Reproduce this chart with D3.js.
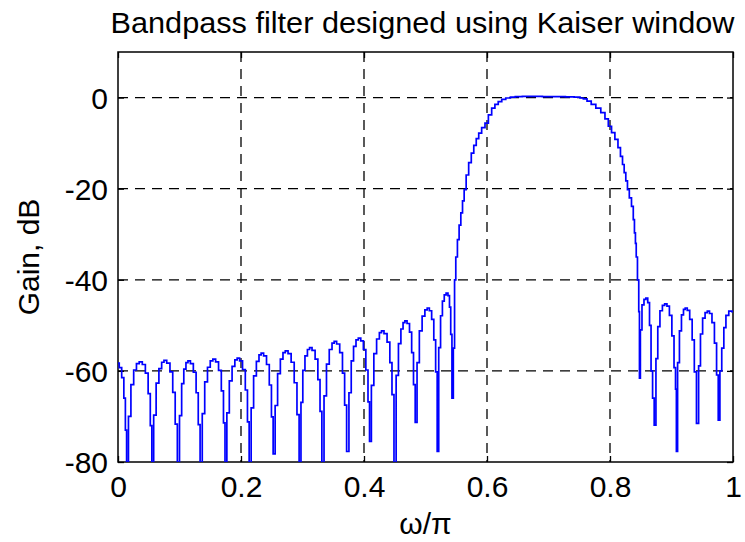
<!DOCTYPE html>
<html><head><meta charset="utf-8">
<script src="https://cdn.jsdelivr.net/npm/d3@7"></script>
<style>
html,body{margin:0;padding:0;background:#fff;}
svg text{font-family:"Liberation Sans",Arial,Helvetica,sans-serif;fill:#000;}
</style></head>
<body><svg id="chart" width="745" height="542"></svg>
<script>
const title = "Bandpass filter designed using Kaiser window";
const xLabel = "ω/π";
const yLabel = "Gain, dB";
const xTicks = [0, 0.2, 0.4, 0.6, 0.8, 1];
const xTickLabels = ["0", "0.2", "0.4", "0.6", "0.8", "1"];
const yTicks = [-80, -60, -40, -20, 0];
const yTickLabels = ["-80", "-60", "-40", "-20", "0"];

// normalized frequency (omega/pi)
const omega = [
0,0.004,0.008,0.011,0.013,0.015,
0.019,0.023,0.028,0.032,0.037,0.042,0.047,0.051,0.054,0.056,
0.06,0.064,0.069,0.073,0.0765,0.082,0.087,0.091,0.095,0.098,
0.102,0.105,0.109,0.112,0.1155,0.12,0.125,0.129,0.132,0.135,
0.139,0.143,0.148,0.152,0.1565,0.161,0.166,0.17,0.173,0.175,
0.179,0.183,0.188,0.192,0.1955,0.2,0.205,0.209,0.212,0.2145,
0.2185,0.2225,0.2275,0.231,0.2345,0.239,0.244,0.248,0.251,0.2535,
0.2575,0.2615,0.2665,0.27,0.274,0.279,0.284,0.289,0.293,0.296,
0.299,0.302,0.306,0.31,0.313,0.318,0.323,0.327,0.33,0.333,
0.337,0.341,0.346,0.35,0.353,0.358,0.363,0.367,0.37,0.3735,
0.3775,0.381,0.385,0.389,0.3925,0.397,0.401,0.405,0.408,0.41,
0.414,0.418,0.423,0.427,0.43,0.435,0.44,0.444,0.447,0.4505,
0.454,0.458,0.462,0.465,0.468,0.472,0.476,0.479,0.482,0.4845,
0.488,0.492,0.497,0.501,0.5045,0.508,0.512,0.515,0.518,0.52,
0.523,0.526,0.529,0.532,0.535,0.538,0.54,0.542,0.544,
0.5465,0.548,0.5505,0.5533,0.556,0.5589,0.5615,0.5642,0.568,0.5724,0.5765,0.5805,0.5845,0.5886,0.594,0.5995,
0.605,0.6102,0.6155,0.621,0.627,0.634,0.642,0.65,0.665,0.68,0.70,0.72,0.735,
0.7485,0.754,0.7593,0.766,0.7729,0.781,0.7891,0.7945,0.8,0.805,0.8109,0.815,0.819,0.8217,0.8244,0.827,0.8298,0.833,0.8369,
0.8388,0.8407,0.842,0.8433,0.846,0.8475,
0.8483,0.8505,0.8535,0.857,0.8597,0.863,0.8655,0.868,0.8705,0.8732,
0.8762,0.8792,0.8832,0.8872,0.8906,0.8946,0.8986,0.9026,0.9056,0.9075,0.9084,
0.9114,0.9144,0.918,0.921,0.9236,0.9276,0.9316,0.9356,0.9386,0.9426,
0.9456,0.9486,0.9526,0.9566,0.9598,0.9638,0.9678,0.9718,0.9748,0.9772,
0.9802,0.9832,0.987,0.99,0.9963,1
];
// gain in dB
const gainDb = [
-58.3,-59.3,-61.5,-66,-73,-90,
-70,-63,-59.8,-58.4,-58,-58.6,-60.5,-65,-72,-90,
-69.7,-62.7,-59.5,-58.1,-57.7,-58.3,-60.2,-64.7,-71.7,-90,
-69.8,-62.8,-59.6,-58.2,-57.8,-58.4,-60.3,-64.8,-71.8,-90,
-69.4,-62.4,-59.2,-57.8,-57.4,-58,-59.9,-64.4,-71.4,-90,
-69.2,-62.2,-59,-57.6,-57.2,-57.8,-59.7,-64.2,-71.2,-90,
-68.1,-61.1,-57.9,-56.5,-56.1,-56.7,-58.6,-63.1,-70.1,-78.2,
-67.6,-60.6,-57.4,-56,-55.6,-56.2,-58.1,-62.6,-69.6,-90,
-66.9,-59.9,-56.7,-55.3,-54.9,-55.5,-57.4,-61.9,-68.9,-90,
-65.5,-58.5,-55.3,-53.9,-53.5,-54.1,-56,-60.5,-67.5,-77.7,
-64.8,-57.8,-54.6,-53.2,-52.8,-53.4,-55.3,-59.8,-66.8,-75.5,
-63.2,-56.2,-53,-51.6,-51.2,-51.8,-53.7,-58.2,-65.2,-85,
-61,-54,-50.8,-49.4,-49,-49.6,-51.5,-56,-63,-71.3,
-58.2,-51.2,-48,-46.6,-46.2,-46.8,-48.7,-53.2,-60.2,-77.7,
-54.9,-47.9,-44.7,-43.3,-42.9,-43.5,-46,-52,-66,
-55,-40,-35,-31.2,-28,-25.3,-22.7,-20.2,-17,-14.3,-12.2,-10.5,-9,-7.8,-6.6,-5.6,
-3.8,-2.3,-1.5,-0.9,-0.4,-0.1,0.1,0.2,0.25,0.25,0.2,0.2,0.15,
0.1,-0.1,-0.3,-0.8,-1.5,-2.3,-3.3,-4.7,-6.3,-7.7,-9.2,-11,-12.9,-14.7,-16.5,-18.3,-20.2,-22,-23.9,
-26.8,-29.7,-32,-35,-40,-47,
-61.6,-51,-45.5,-44.3,-44,-45,-50,-60,-66,-71.9,
-57.3,-50.3,-46.8,-45.6,-45.3,-45.8,-47.8,-52.3,-59.3,-64,-77.7,
-58.2,-51.2,-47.7,-46.5,-46.2,-46.7,-48.7,-53.2,-60.2,-71.5,
-58.9,-51.9,-48.4,-47.2,-46.9,-47.4,-49.4,-53.9,-60.9,-70.8,
-60,-55,-50.5,-47.8,-46.9,-47
];

const svg = d3.select("#chart");
const L = 118, R = 733, T = 52, B = 462;
const x = d3.scaleLinear().domain([0, 1]).range([L, R]);
const y = d3.scaleLinear().domain([-80, 10]).range([B, T]);

svg.append("defs").append("clipPath").attr("id", "clip")
  .append("rect").attr("x", L).attr("y", T).attr("width", R - L).attr("height", B - T);

// grid
const grid = svg.append("g").attr("stroke", "#000").attr("stroke-width", 1.3).attr("stroke-dasharray", "10,7");
grid.selectAll(".vg").data(xTicks.filter(d => d > 0 && d < 1)).join("line")
  .attr("x1", d => x(d)).attr("x2", d => x(d)).attr("y1", T).attr("y2", B);
grid.selectAll(".hg").data(yTicks.filter(d => d > -80)).join("line")
  .attr("x1", L).attr("x2", R).attr("y1", d => y(d)).attr("y2", d => y(d));

// axes (MATLAB style, inward ticks on all sides)
const tickLen = 6;
const axB = svg.append("g").attr("transform", `translate(0,${B})`)
  .call(d3.axisBottom(x).tickValues(xTicks).tickSize(-tickLen).tickFormat((d, i) => xTickLabels[i]).tickPadding(14));
const axT = svg.append("g").attr("transform", `translate(0,${T})`)
  .call(d3.axisTop(x).tickValues(xTicks).tickSize(-tickLen).tickFormat(""));
const axL = svg.append("g").attr("transform", `translate(${L},0)`)
  .call(d3.axisLeft(y).tickValues(yTicks).tickSize(-tickLen).tickFormat((d, i) => yTickLabels[i]).tickPadding(10));
const axR = svg.append("g").attr("transform", `translate(${R},0)`)
  .call(d3.axisRight(y).tickValues(yTicks).tickSize(-tickLen).tickFormat(""));
[axB, axT, axL, axR].forEach(a => {
  a.select(".domain").remove();
  a.selectAll(".tick line").attr("stroke", "#000").attr("stroke-width", 1.3);
  a.selectAll("text").attr("font-size", 30).attr("fill", "#000")
   .style("font-family", "'Liberation Sans', Arial, sans-serif");
});
axB.selectAll("text").attr("dy", "0.71em");
axL.selectAll("text").attr("dy", "0.36em");

svg.append("rect").attr("x", L).attr("y", T).attr("width", R - L).attr("height", B - T)
  .attr("fill", "none").attr("stroke", "#000").attr("stroke-width", 1.5);

// response curve
const pts = omega.map((w, i) => [w, gainDb[i]]);
svg.append("path").datum(pts)
  .attr("clip-path", "url(#clip)")
  .attr("fill", "none").attr("stroke", "#0000ff").attr("stroke-width", 1.7)
  .attr("stroke-linejoin", "miter")
  .attr("d", d3.line().x(d => x(d[0])).y(d => y(d[1])).curve(d3.curveStep));

// labels
svg.append("text").attr("x", (L + R) / 2 - 3).attr("y", 33).attr("text-anchor", "middle")
  .attr("font-size", 30).attr("textLength", 624).attr("lengthAdjust", "spacingAndGlyphs").text(title);
svg.append("text").attr("x", (L + R) / 2).attr("y", 534).attr("text-anchor", "middle")
  .attr("font-size", 30).text(xLabel);
svg.append("text").attr("transform", `translate(39,${(T + B) / 2}) rotate(-90)`)
  .attr("text-anchor", "middle").attr("font-size", 30).text(yLabel);
</script></body></html>
